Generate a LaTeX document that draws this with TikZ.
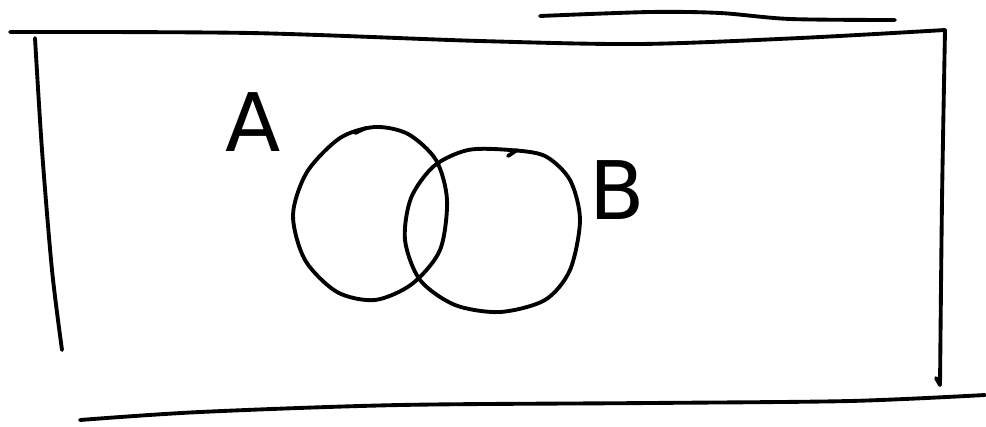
\documentclass[tikz,border=0pt]{standalone}
\usepackage{fontspec}
\setmainfont{DejaVu Sans}
\tikzset{
  stroke/.style={line width=2.2pt, line cap=round, line join=round},
  setlabel/.style={font=\fontsize{46}{46}\selectfont, inner sep=0pt}
}
\begin{document}
\begin{tikzpicture}[x=0.02cm, y=-0.02cm]
  \useasboundingbox (0,0) rectangle (986,426);
  % frame
  \draw[stroke] plot[smooth] coordinates {(540,16) (650,12) (720,13) (790,19) (895,20)};
  \draw[stroke] plot[smooth] coordinates {(10,32) (250,33) (480,41) (640,44) (800,38) (945,30)};
  \draw[stroke] plot[smooth] coordinates {(35,38) (42,150) (52,270) (62,350)};
  \draw[stroke] plot[smooth] coordinates {(945,30) (942,200) (940,385)};
  \draw[stroke] (940,385) -- (936,378);
  \draw[stroke] plot[smooth] coordinates {(80,420) (200,412) (400,405) (650,403) (850,401) (985,395)};
  % sets
  \draw[stroke] plot[smooth cycle] coordinates {(375,127) (340,138) (307,172) (293,215) (305,260)
    (337,292) (375,300) (412,284) (440,250) (447,200) (436,160) (408,134)};
  \draw[stroke] (355,133) -- (366,128);
  \draw[stroke] plot[smooth cycle] coordinates {(510,150) (468,150) (434,166) (411,198) (405,240)
    (420,280) (455,305) (500,312) (545,300) (570,270) (580,220) (570,180) (545,156)};
  \draw[stroke] (508,156) -- (517,150);
  \node[setlabel] (labA) at (253,122) {A};
  \node[setlabel] (labB) at (617,190) {B};
\end{tikzpicture}
\end{document}
